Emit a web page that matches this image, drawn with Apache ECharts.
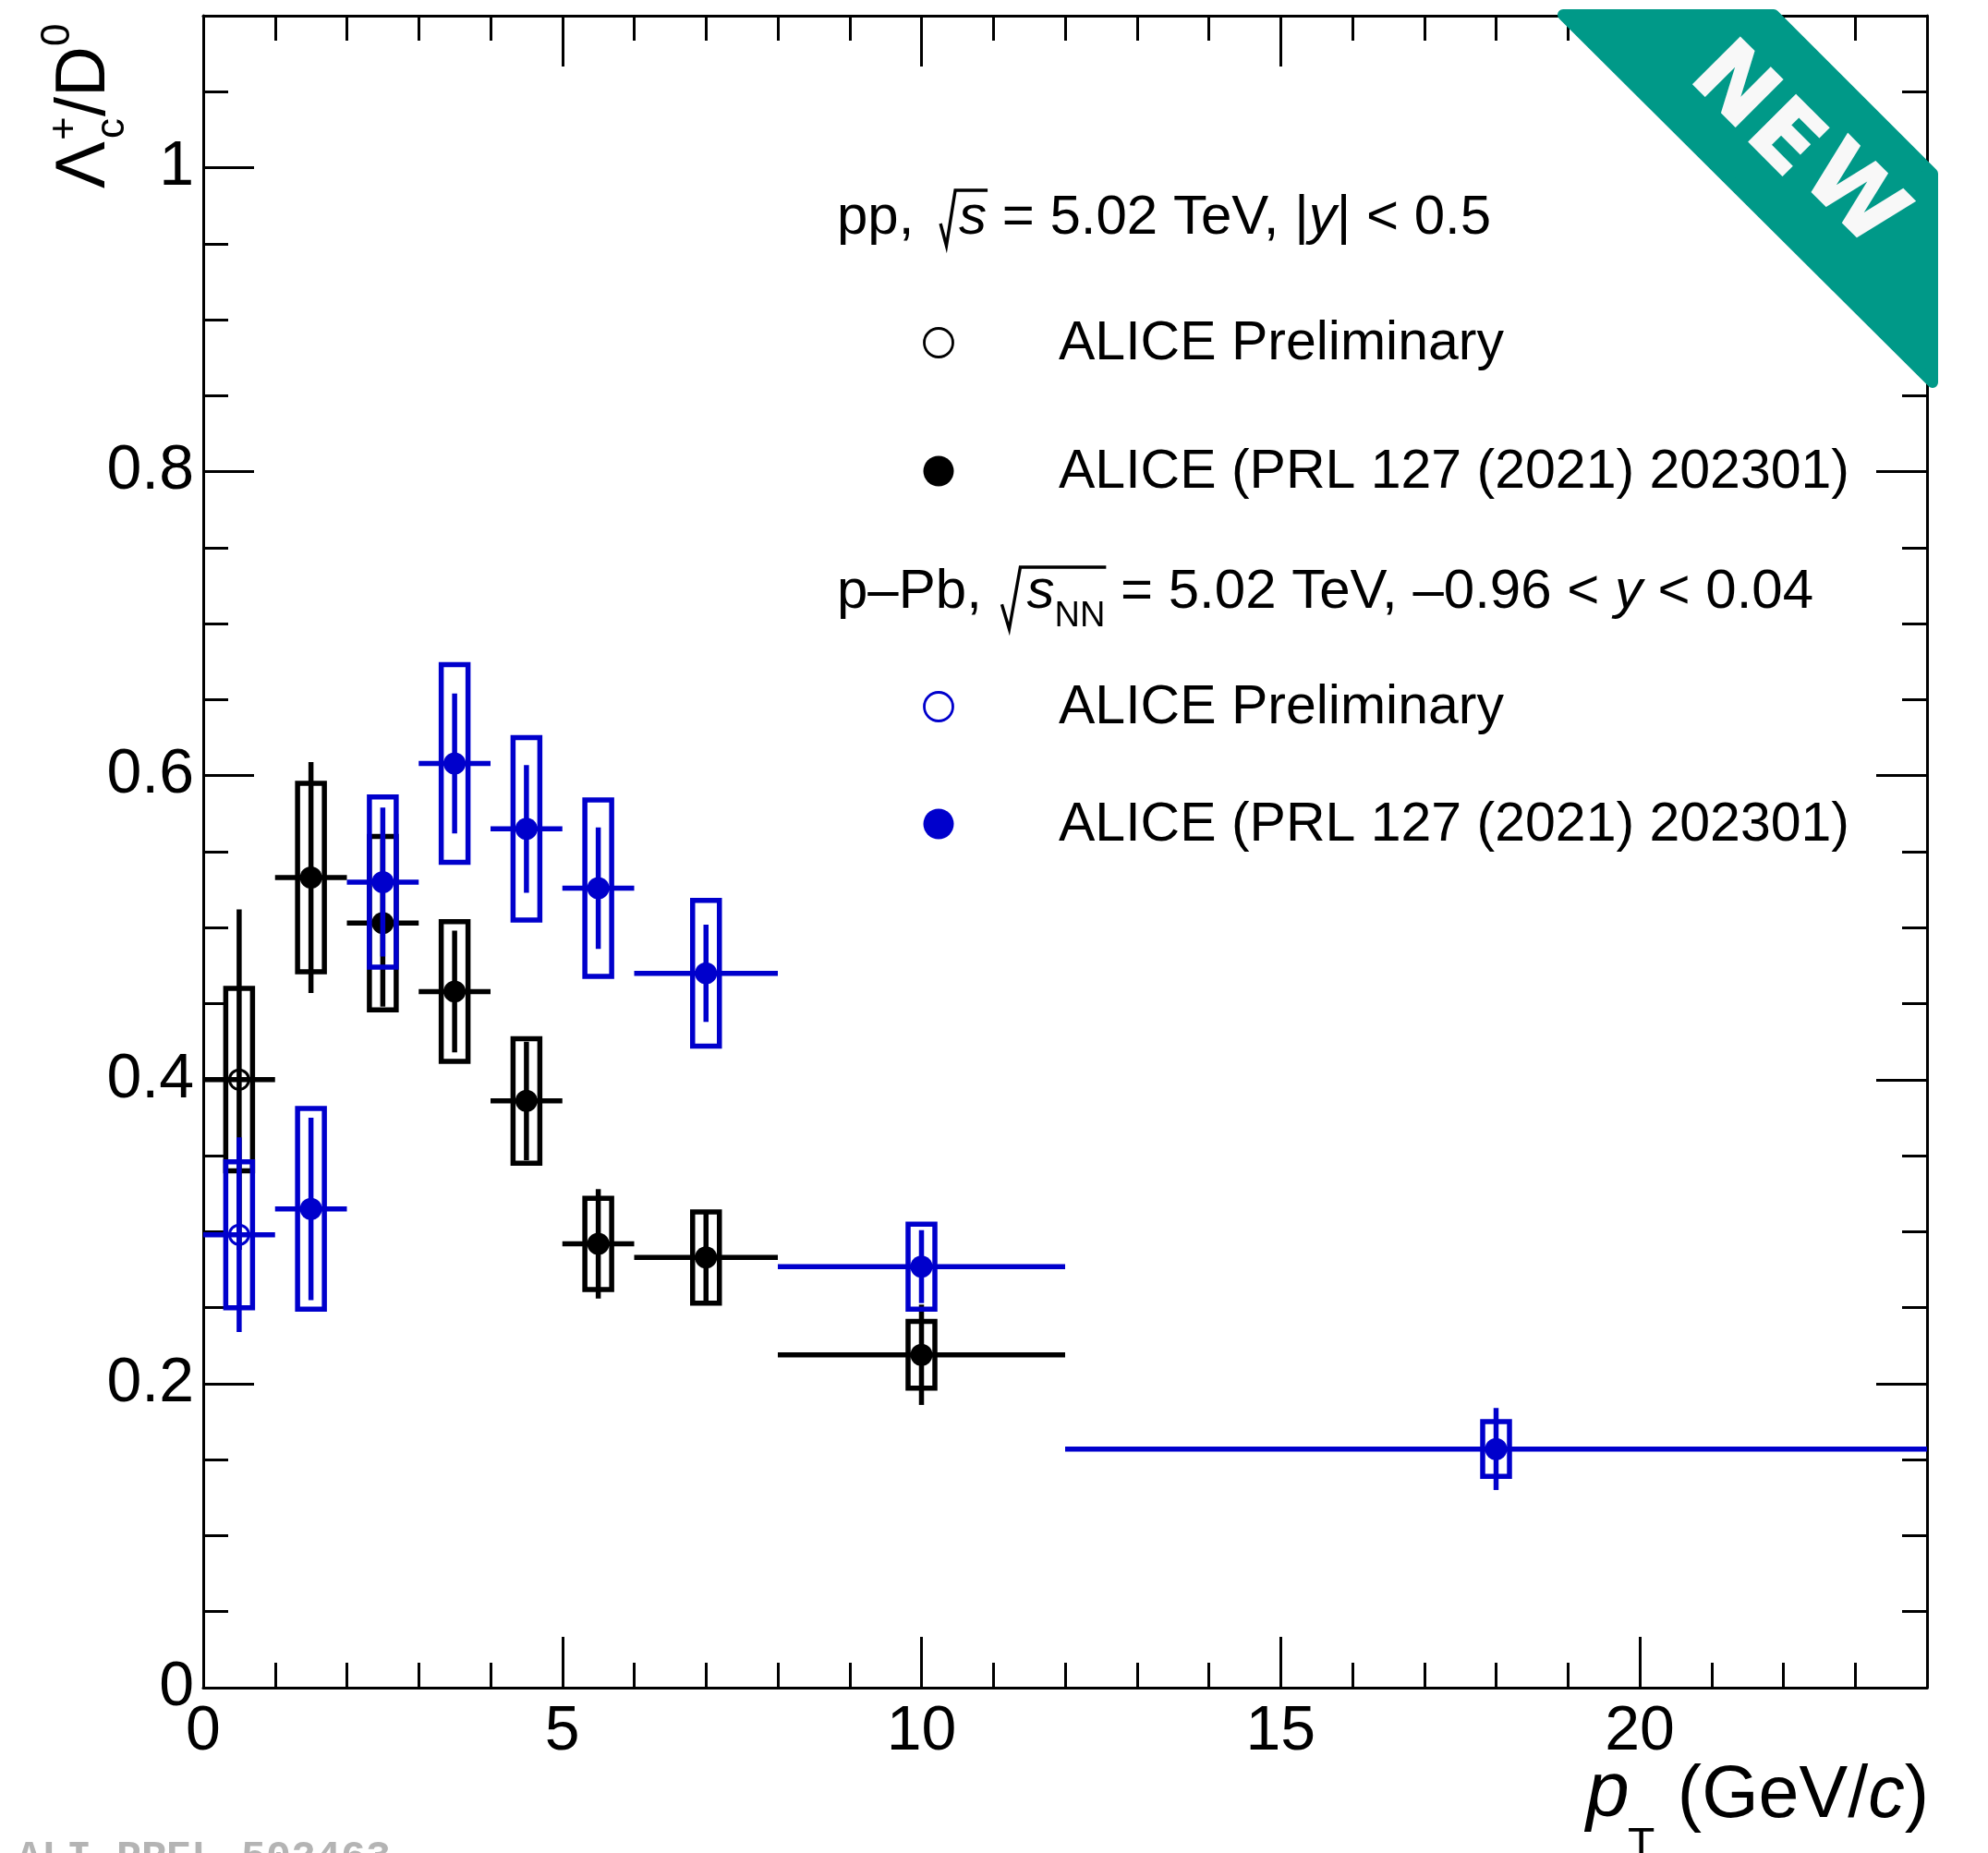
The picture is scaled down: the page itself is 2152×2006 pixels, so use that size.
<!DOCTYPE html>
<html>
<head>
<meta charset="utf-8">
<title>Lambda_c+/D0 vs pT</title>
<script src="https://cdn.jsdelivr.net/npm/echarts@6/dist/echarts.min.js"></script>
<style>
    html, body { margin: 0; padding: 0; background: #fff; }
    #chart { width: 2152px; height: 2006px; }
</style>
</head>
<body>
<div id="chart"></div>
<script>
// Λc+/D0 ratio vs pT, pp and p-Pb at 5.02 TeV
// values

// pp, ALICE Preliminary (open black)
const ppPrelPt = [0.5];
const ppPrelBinLo = [0];
const ppPrelBinHi = [1];
const ppPrelRatio = [0.400];
const ppPrelStat = [0.112];
const ppPrelSyst = [0.060];

// pp, ALICE PRL 127 (2021) 202301 (full black)
const ppPt = [1.5, 2.5, 3.5, 4.5, 5.5, 7, 10];
const ppBinLo = [1, 2, 3, 4, 5, 6, 8];
const ppBinHi = [2, 3, 4, 5, 6, 8, 12];
const ppRatio = [0.533, 0.503, 0.458, 0.386, 0.292, 0.283, 0.219];
const ppStat = [0.076, 0.055, 0.040, 0.039, 0.036, 0.031, 0.033];
const ppSyst = [0.062, 0.057, 0.046, 0.041, 0.030, 0.030, 0.022];

// p-Pb, ALICE Preliminary (open blue)
const pPbPrelPt = [0.5];
const pPbPrelBinLo = [0];
const pPbPrelBinHi = [1];
const pPbPrelRatio = [0.298];
const pPbPrelStat = [0.064];
const pPbPrelSyst = [0.048];

// p-Pb, ALICE PRL 127 (2021) 202301 (full blue)
const pPbPt = [1.5, 2.5, 3.5, 4.5, 5.5, 7, 10, 18];
const pPbBinLo = [1, 2, 3, 4, 5, 6, 8, 12];
const pPbBinHi = [2, 3, 4, 5, 6, 8, 12, 24];
const pPbRatio = [0.315, 0.530, 0.608, 0.565, 0.526, 0.470, 0.277, 0.157];
const pPbStat = [0.060, 0.049, 0.046, 0.042, 0.040, 0.032, 0.024, 0.027];
const pPbSyst = [0.066, 0.056, 0.065, 0.060, 0.058, 0.048, 0.028, 0.018];

// tick labels
const xTickLabels = [0, 5, 10, 15, 20];
const yTickLabels = [0, 0.2, 0.4, 0.6, 0.8, 1];

const BLACK = "#000000";
const BLUE = "#0000cc";
const TEAL = "#009988";
const FONT = '"Liberation Sans", Arial, sans-serif';
const LEG_FS = 59;
const MID = 0.345; // canvas 'middle' sits this many em above the baseline

(function () {
    let myChart = echarts.init(document.getElementById("chart"))

    const ctx2d = document.createElement("canvas").getContext("2d");
    function textW(str, font) {
        ctx2d.font = font;
        return ctx2d.measureText(str).width;
    }
    function fontOf(size, italic) {
        return (italic ? "italic " : "") + size + "px " + FONT;
    }

    // error bars + systematic boxes, drawn through the axes
    function pointSeries(name, pt, lo, hi, ratio, stat, syst, color, open) {
        const data = pt.map(function (x, i) {
            return [x, ratio[i], lo[i], hi[i], stat[i], syst[i]];
        });
        return {
            type: "custom",
            name: name,
            xAxisIndex: 0,
            yAxisIndex: 0,
            encode: { x: 0, y: 1 },
            data: data,
            renderItem: function (params, api) {
                const x = api.value(0), y = api.value(1);
                const c = api.coord([x, y]);
                const l = api.coord([api.value(2), y]);
                const h = api.coord([api.value(3), y]);
                const st = api.coord([x, y + api.value(4)]);
                const sb = api.coord([x, y - api.value(4)]);
                const yt = api.coord([x, y + api.value(5)]);
                const yb = api.coord([x, y - api.value(5)]);
                const hw = 14.5;
                const lineStyle = { stroke: color, lineWidth: 5.5 };
                return {
                    type: "group",
                    children: [
                        {
                            type: "rect",
                            shape: { x: c[0] - hw, y: yt[1], width: 2 * hw, height: yb[1] - yt[1] },
                            style: { fill: "none", stroke: color, lineWidth: 5.5 }
                        },
                        { type: "line", shape: { x1: l[0], y1: c[1], x2: h[0], y2: c[1] }, style: lineStyle },
                        { type: "line", shape: { x1: c[0], y1: st[1], x2: c[0], y2: sb[1] }, style: lineStyle },
                        {
                            type: "circle",
                            shape: { cx: c[0], cy: c[1], r: open ? 10.5 : 12 },
                            style: open ? { fill: "none", stroke: color, lineWidth: 3 } : { fill: color }
                        }
                    ]
                };
            }
        };
    }

    // ---- text pieces laid out left to right
    const els = [];
    function textLine(x, baseline, pieces, color, baseSize) {
        let cx = x;
        const spans = [];
        pieces.forEach(function (p) {
            if (p.gap) {
                spans.push([cx, cx + p.gap]);
                cx += p.gap;
                return;
            }
            const size = p.size || baseSize || LEG_FS;
            const font = fontOf(size, p.italic);
            els.push({
                type: "text",
                x: cx,
                y: baseline + (p.dy || 0) - MID * size,
                z: 50,
                style: {
                    text: p.t, font: font, fill: color,
                    align: "left", verticalAlign: "middle",
                    textAlign: "left", textVerticalAlign: "middle"
                }
            });
            const w = textW(p.t, font);
            spans.push([cx, cx + w]);
            cx += w;
        });
        return spans;
    }
    function radical(x0, w, top, bottom, xEnd) {
        els.push({
            type: "polyline",
            z: 50,
            shape: {
                points: [
                    [x0, bottom - 0.4 * (bottom - top)],
                    [x0 + w * 0.4, bottom],
                    [x0 + w, top],
                    [xEnd, top]
                ]
            },
            style: { stroke: BLACK, lineWidth: 3.4, fill: null, lineJoin: "miter" }
        });
    }

    // legend block
    const LX = 906, MX = 1016;
    let sp = textLine(LX, 257, [
        { t: "pp, " }, { gap: 32 }, { t: "s", italic: true },
        { t: " = 5.02 TeV, |" }, { t: "y", italic: true }, { t: "| < 0.5" }
    ], BLACK, 60);
    radical(sp[1][0] + 12, 16, 206, 266, sp[2][1] + 1);

    sp = textLine(LX, 662, [
        { t: "p\u2013Pb, " }, { gap: 32 }, { t: "s", italic: true },
        { t: "NN", size: 38, dy: 19 },
        { t: " = 5.02 TeV, \u20130.96 < " }, { t: "y", italic: true }, { t: " < 0.04" }
    ], BLACK, 60);
    radical(sp[1][0] + 5, 20, 614, 681, sp[3][1] + 1);

    const entries = [
        { y: 371, text: "ALICE Preliminary", color: BLACK, open: true },
        { y: 510, text: "ALICE (PRL 127 (2021) 202301)", color: BLACK, open: false },
        { y: 765, text: "ALICE Preliminary", color: BLUE, open: true },
        { y: 892, text: "ALICE (PRL 127 (2021) 202301)", color: BLUE, open: false }
    ];
    entries.forEach(function (e) {
        els.push({
            type: "circle", z: 50,
            shape: { cx: MX, cy: e.y, r: e.open ? 15.5 : 16.5 },
            style: e.open ? { fill: "none", stroke: e.color, lineWidth: 2.8 } : { fill: e.color }
        });
        textLine(1146, e.y + 22, [{ t: e.text }], BLACK);
    });

    // y title  Λc+/D0 (rotated)
    const rot = Math.PI / 2;
    function rText(x, y, str, size) {
        els.push({
            type: "text", x: x, y: y, rotation: rot, z: 50,
            style: {
                text: str, font: fontOf(size, false), fill: BLACK,
                align: "left", verticalAlign: "middle",
                textAlign: "left", textVerticalAlign: "middle"
            }
        });
    }
    rText(118 - MID * 76, 204, "\u039B", 76);
    rText(137 - MID * 44, 150, "c", 44);
    rText(71, 152, "+", 44);
    rText(118 - MID * 76, 126, "/D", 76);
    rText(78 - MID * 44, 50, "0", 44);

    // x title  pT (GeV/c)
    els.push({
        type: "text", x: 2088, y: 1972 - MID * 79, z: 50,
        style: {
            text: "(GeV/{i|c})", fontSize: 79, fontFamily: FONT, fill: BLACK,
            align: "right", verticalAlign: "middle",
            textAlign: "right", textVerticalAlign: "middle",
            rich: { i: { fontSize: 79, fontFamily: FONT, fontStyle: "italic", fill: BLACK } }
        }
    });
    els.push({
        type: "text", x: 1717, y: 1972 - MID * 84, z: 50,
        style: { text: "p", font: fontOf(84, true), fill: BLACK, align: "left", verticalAlign: "middle", textAlign: "left", textVerticalAlign: "middle" }
    });
    els.push({
        type: "text", x: 1762, y: 2015 - MID * 48, z: 50,
        style: { text: "T", font: fontOf(48, false), fill: BLACK, align: "left", verticalAlign: "middle", textAlign: "left", textVerticalAlign: "middle" }
    });

    // figure id, cut at the bottom edge
    els.push({
        type: "text", x: 18, y: 1989, z: 50,
        style: {
            text: "ALI-PREL-502463", font: 'bold 45px "Liberation Mono", monospace', fill: "#b4b4b4",
            align: "left", verticalAlign: "top", textAlign: "left", textVerticalAlign: "top"
        }
    });

    // NEW ribbon
    els.push({
        type: "polygon", z: 100,
        shape: { points: [[1692, 16], [1920, 16], [2092, 188], [2092, 414]] },
        style: { fill: TEAL, stroke: TEAL, lineWidth: 12, lineJoin: "round" }
    });
    [["N", 1874, 96], ["E", 1929, 153], ["W", 2004, 214]].forEach(function (s) {
        els.push({
            type: "text", x: s[1], y: s[2], rotation: -Math.PI / 4, z: 101,
            style: {
                text: s[0], font: 'bold 98px "DejaVu Sans", sans-serif', fill: "#f8f8f8",
                stroke: "#f8f8f8", lineWidth: 2, lineJoin: "round",
                align: "center", verticalAlign: "middle",
                textAlign: "center", textVerticalAlign: "middle"
            }
        });
    });

    // frame axes: labelled major ticks + separate minor tick axes, mirrored top/right
    const tickLine = { color: BLACK, width: 3 };
    const frameLine = { show: true, onZero: false, lineStyle: { color: BLACK, width: 3 } };
    function xAx(pos, step, len, labels, line) {
        return {
            type: "value", position: pos, min: 0, max: 24, interval: step,
            axisLine: line ? frameLine : { show: false, onZero: false },
            axisTick: { show: true, inside: true, length: len, lineStyle: tickLine },
            axisLabel: labels ? {
                show: true, margin: 14, color: BLACK, fontSize: 68, fontFamily: FONT,
                showMaxLabel: false,
                formatter: function (v) { return xTickLabels.indexOf(v) >= 0 ? String(v) : ""; }
            } : { show: false },
            splitLine: { show: false }
        };
    }
    function yAx(pos, step, len, labels, line) {
        return {
            type: "value", position: pos, min: 0, max: 1.1, interval: step,
            axisLine: line ? frameLine : { show: false, onZero: false },
            axisTick: { show: true, inside: true, length: len, lineStyle: tickLine },
            axisLabel: labels ? {
                show: true, margin: 10, color: BLACK, fontSize: 68, fontFamily: FONT,
                showMaxLabel: false,
                formatter: function (v) {
                    const r = Math.round(v * 100) / 100;
                    return yTickLabels.indexOf(r) >= 0 ? String(r) : "";
                }
            } : { show: false },
            splitLine: { show: false }
        };
    }

    let option = {
        animation: false,
        backgroundColor: "#ffffff",
        grid: {
            left: 220,
            top: 17,
            width: 1866,
            height: 1810,
            containLabel: false,
            outerBoundsMode: "none"
        },
        xAxis: [
            xAx("bottom", 5, 55, true, true),
            xAx("bottom", 1, 27, false, false),
            xAx("top", 5, 55, false, true),
            xAx("top", 1, 27, false, false)
        ],
        yAxis: [
            yAx("left", 0.2, 55, true, true),
            yAx("left", 0.05, 27, false, false),
            yAx("right", 0.2, 55, false, true),
            yAx("right", 0.05, 27, false, false)
        ],
        series: [
            pointSeries("pp Preliminary", ppPrelPt, ppPrelBinLo, ppPrelBinHi, ppPrelRatio, ppPrelStat, ppPrelSyst, BLACK, true),
            pointSeries("pp PRL", ppPt, ppBinLo, ppBinHi, ppRatio, ppStat, ppSyst, BLACK, false),
            pointSeries("p-Pb Preliminary", pPbPrelPt, pPbPrelBinLo, pPbPrelBinHi, pPbPrelRatio, pPbPrelStat, pPbPrelSyst, BLUE, true),
            pointSeries("p-Pb PRL", pPbPt, pPbBinLo, pPbBinHi, pPbRatio, pPbStat, pPbSyst, BLUE, false)
        ],
        graphic: { elements: els }
    };
    myChart.setOption(option)
    window.addEventListener("resize", function () {
        myChart.resize()
    })
})();
</script>
</body>
</html>
